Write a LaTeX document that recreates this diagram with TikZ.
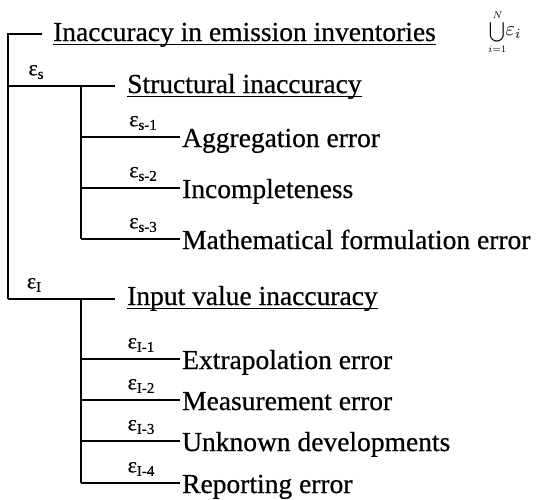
\documentclass[tikz,border=0pt]{standalone}
\usepackage{graphicx}
\usepackage{fontspec}
\setmainfont{Liberation Serif}[FakeBold=0.6]
\newcommand{\epslab}[1]{{\fontsize{22}{22}\selectfont ε}\raisebox{-3.5pt}{\fontsize{15}{15}\selectfont #1}}
\begin{document}
\begin{tikzpicture}[x=1pt,y=-1pt,
  wire/.style={line width=1.5pt},
  uline/.style={line width=1.3pt},
  head/.style={inner sep=0pt, anchor=base west, font=\fontsize{27.5}{30}\selectfont},
  itemtext/.style={inner sep=0pt, anchor=base west, font=\fontsize{27.5}{30}\selectfont},
  epsnode/.style={inner sep=0pt, anchor=center}]
\useasboundingbox (0,0) rectangle (539,499);
% top level
\coordinate (top) at (8,34);
\coordinate (topR) at (42,34);
\coordinate (sJ) at (8,86);
\coordinate (iJ) at (8,299);
\node[head] (title) at (53,41) {Inaccuracy in emission inventories};
\draw[uline] ([yshift=-3.5pt]title.base west) -- ([yshift=-3.5pt]title.base east);
\node[inner sep=0pt] (union) at (505,32) {\scalebox{1.4}{$\displaystyle\bigcup_{i=1}^{N}$}\kern-1pt\scalebox{2}{$\varepsilon_i$}};
\draw[wire] (topR) -- (top) -- (iJ);
% structural branch
\coordinate (sR) at (115,86);
\coordinate (sV) at (81,86);
\node[epsnode] (es) at (36,72) {\epslab{s}};
\draw[wire] (sJ) -- (sR);
\node[head] (struct) at (127,93) {Structural inaccuracy};
\draw[uline] ([yshift=-3.5pt]struct.base west) -- ([yshift=-3.5pt]struct.base east);
\coordinate (s1L) at (81,137); \coordinate (s1R) at (180,137);
\coordinate (s2L) at (81,188); \coordinate (s2R) at (180,188);
\coordinate (s3L) at (81,239); \coordinate (s3R) at (180,239);
\draw[wire] (sV) -- (s3L);
\draw[wire] (s1L) -- (s1R);
\draw[wire] (s2L) -- (s2R);
\draw[wire] (s3L) -- (s3R);
\node[epsnode] (es1) at (143,123) {\epslab{s-1}};
\node[epsnode] (es2) at (143,174) {\epslab{s-2}};
\node[epsnode] (es3) at (143,225) {\epslab{s-3}};
\node[itemtext] (agg) at (182,147) {Aggregation error};
\node[itemtext] (inc) at (182,198) {Incompleteness};
\node[itemtext] (mat) at (182,249) {Mathematical formulation error};
% input branch
\coordinate (iR) at (115,299);
\coordinate (iV) at (81,299);
\node[epsnode] (ei) at (34,285) {\epslab{I}};
\draw[wire] (iJ) -- (iR);
\node[head] (input) at (127,305) {Input value inaccuracy};
\draw[uline] ([yshift=-3.5pt]input.base west) -- ([yshift=-3.5pt]input.base east);
\coordinate (i1L) at (81,359); \coordinate (i1R) at (180,359);
\coordinate (i2L) at (81,400); \coordinate (i2R) at (180,400);
\coordinate (i3L) at (81,441); \coordinate (i3R) at (180,441);
\coordinate (i4L) at (81,483); \coordinate (i4R) at (180,483);
\draw[wire] (iV) -- (i4L);
\draw[wire] (i1L) -- (i1R);
\draw[wire] (i2L) -- (i2R);
\draw[wire] (i3L) -- (i3R);
\draw[wire] (i4L) -- (i4R);
\node[epsnode] (ei1) at (141,345) {\epslab{I-1}};
\node[epsnode] (ei2) at (141,386) {\epslab{I-2}};
\node[epsnode] (ei3) at (141,427) {\epslab{I-3}};
\node[epsnode] (ei4) at (141,469) {\epslab{I-4}};
\node[itemtext] (ext) at (182,369) {Extrapolation error};
\node[itemtext] (mea) at (182,410) {Measurement error};
\node[itemtext] (unk) at (182,451) {Unknown developments};
\node[itemtext] (rep) at (182,493) {Reporting error};
\end{tikzpicture}
\end{document}
